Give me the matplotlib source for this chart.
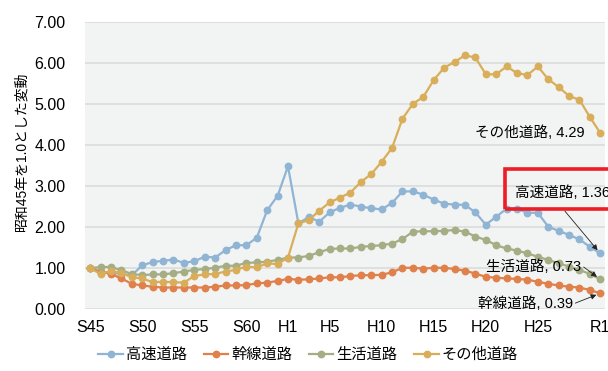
import matplotlib

matplotlib.use("Agg")
import matplotlib.pyplot as plt
from matplotlib.patches import Rectangle

plt.rcParams["font.family"] = ["Liberation Sans", "Noto Sans CJK JP", "DejaVu Sans"]

# %%
# Data: index relative to S45 (= 1.0), yearly S45 .. R1
years = ["S45", "S46", "S47", "S48", "S49", "S50", "S51", "S52", "S53", "S54",
         "S55", "S56", "S57", "S58", "S59", "S60", "S61", "S62", "S63", "H1",
         "H2", "H3", "H4", "H5", "H6", "H7", "H8", "H9", "H10", "H11",
         "H12", "H13", "H14", "H15", "H16", "H17", "H18", "H19", "H20", "H21",
         "H22", "H23", "H24", "H25", "H26", "H27", "H28", "H29", "H30", "R1"]
tick_labels = ["S45", "S50", "S55", "S60", "H1", "H5", "H10", "H15", "H20", "H25", "R1"]

expressway = [1.00, 0.88, 0.89, 0.86, 0.83, 1.07, 1.15, 1.18, 1.21, 1.13,
              1.17, 1.28, 1.26, 1.44, 1.56, 1.56, 1.74, 2.41, 2.76, 3.48,
              2.09, 2.25, 2.13, 2.36, 2.47, 2.55, 2.50, 2.46, 2.43, 2.59,
              2.87, 2.87, 2.79, 2.67, 2.57, 2.55, 2.54, 2.36, 2.06, 2.25,
              2.45, 2.45, 2.35, 2.35, 2.01, 1.91, 1.81, 1.70, 1.52, 1.36]
arterial = [1.00, 0.92, 0.86, 0.75, 0.62, 0.58, 0.55, 0.53, 0.53, 0.53,
            0.53, 0.53, 0.55, 0.58, 0.58, 0.59, 0.63, 0.65, 0.69, 0.74,
            0.72, 0.73, 0.75, 0.78, 0.78, 0.81, 0.83, 0.83, 0.84, 0.90,
            1.01, 1.01, 0.99, 1.01, 1.01, 0.98, 0.94, 0.87, 0.79, 0.77,
            0.75, 0.74, 0.72, 0.67, 0.62, 0.58, 0.55, 0.53, 0.47, 0.39]
community = [1.00, 1.03, 1.03, 0.95, 0.86, 0.83, 0.85, 0.85, 0.88, 0.92,
             0.96, 0.98, 1.01, 1.06, 1.06, 1.13, 1.14, 1.16, 1.20, 1.26,
             1.26, 1.30, 1.39, 1.47, 1.48, 1.48, 1.52, 1.54, 1.56, 1.60,
             1.71, 1.89, 1.90, 1.90, 1.91, 1.93, 1.89, 1.77, 1.69, 1.56,
             1.48, 1.43, 1.36, 1.28, 1.20, 1.12, 1.04, 0.96, 0.86, 0.73]
other = [1.00, 0.86, 0.94, 0.88, 0.78, 0.75, 0.66, 0.67, 0.66, 0.65,
         0.81, 0.85, 0.86, 0.92, 0.96, 1.04, 1.02, 1.12, 1.10, 1.26,
         2.09, 2.17, 2.40, 2.60, 2.72, 2.84, 3.10, 3.29, 3.59, 3.93,
         4.64, 5.00, 5.17, 5.58, 5.88, 6.02, 6.18, 6.13, 5.72, 5.72,
         5.91, 5.75, 5.70, 5.91, 5.60, 5.41, 5.19, 5.10, 4.68, 4.29]

names = ["高速道路", "幹線道路", "生活道路", "その他道路"]
series = [expressway, arterial, community, other]
colors = ["#8fb4d4", "#e0804a", "#a5ad85", "#d9ae5a"]

# %%
fig = plt.figure(figsize=(6.08, 3.71), dpi=100)
ax = fig.add_axes([0.1398, 0.1663, 0.8552, 0.7752])
ax.set_facecolor("#f2f3f3")

x = list(range(len(years)))
for name, vals, c in zip(names, series, colors):
    ax.plot(x, vals, color=c, lw=1.6, marker="o", ms=4.6, label=name)

ax.set_xlim(-0.5, 49.45)
ax.set_ylim(0, 7)
ax.set_yticks(range(8))
ax.set_yticklabels([f"{v:.2f}" for v in range(8)], fontsize=11.5)
ax.set_xticks([years.index(t) for t in tick_labels])
ax.set_xticklabels(tick_labels, fontsize=11.5)
ax.tick_params(length=0)
ax.tick_params(axis="x", pad=8)
ax.tick_params(axis="y", pad=14)
ax.grid(axis="y", color="#dcdddd", lw=1.3)
ax.set_axisbelow(True)
for s in ax.spines.values():
    s.set_visible(False)

ax.set_ylabel("昭和45年を1.0とした変動", fontsize=10)
ax.yaxis.set_label_coords(-0.108, 0.55)

# end-of-line labels
last = len(years) - 1
ax.text(47.5, 4.31, f"{names[3]}, {other[-1]:.2f}", fontsize=10.5, ha="right", va="center")
ax.text(40.8, 2.83, f"{names[0]}, {expressway[-1]:.2f}", fontsize=10.5, ha="left", va="center")
ax.text(47.2, 1.03, f"{names[2]}, {community[-1]:.2f}", fontsize=10.5, ha="right", va="center")
ax.text(46.4, 0.14, f"{names[1]}, {arterial[-1]:.2f}", fontsize=10.5, ha="right", va="center")

arrow = dict(arrowstyle="-|>", color="#222222", lw=0.6, mutation_scale=8, shrinkA=0, shrinkB=3)
ax.annotate("", xy=(last, expressway[-1]), xytext=(45.6, 2.39), arrowprops=arrow)
ax.annotate("", xy=(last, community[-1]), xytext=(47.4, 1.03), arrowprops=arrow)
ax.annotate("", xy=(last, arterial[-1]), xytext=(46.6, 0.15), arrowprops=arrow)

# red highlight box
fig.patches.append(Rectangle((505 / 608, 1 - 209 / 371), 110 / 608, 40 / 371,
                             transform=fig.transFigure, fill=False,
                             edgecolor="#ee1c25", lw=2.6, clip_on=False))

fig.legend(loc="center", bbox_to_anchor=(0.507, 0.043), ncol=4, frameon=False,
           fontsize=11, handlelength=1.6, handletextpad=0.2, columnspacing=1.1)

fig.savefig("out.png", dpi=100)
